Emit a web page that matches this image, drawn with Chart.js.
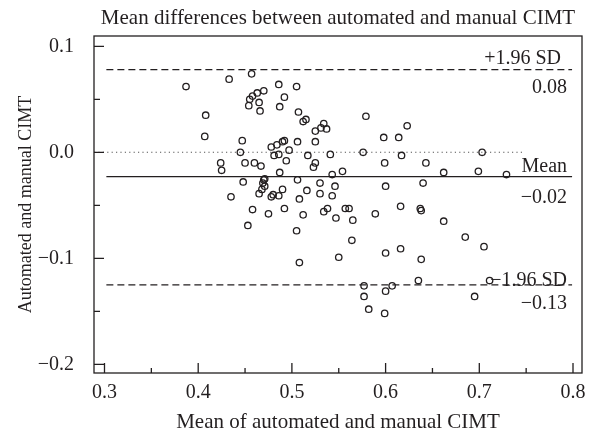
<!DOCTYPE html>
<html><head><meta charset="utf-8">
<script src="https://cdn.jsdelivr.net/npm/chart.js@4.4.1/dist/chart.umd.min.js"></script>
<style>html,body{margin:0;padding:0;background:#fff}#wrap{width:592px;height:436px}</style>
</head><body><div id="wrap"><canvas id="c" width="592" height="436"></canvas></div>
<script>
const chartTitle = 'Mean differences between automated and manual CIMT';
const xTitle = 'Mean of automated and manual CIMT';
const yTitle = 'Automated and manual CIMT';

const meanVals = [
  0.387,0.433,0.457,0.408,0.407,0.447,0.445,0.455,0.458,0.463,
  0.470,0.465,0.454,0.466,0.486,0.505,0.492,0.487,0.507,0.515,
  0.512,0.534,0.531,0.525,0.537,0.579,0.623,0.598,0.614,0.525,
  0.506,0.492,0.490,0.484,0.478,0.497,0.576,0.541,0.517,0.617,
  0.481,0.486,0.460,0.467,0.494,0.525,0.523,0.487,0.543,0.554,
  0.599,0.470,0.471,0.469,0.471,0.468,0.465,0.480,0.478,0.486,
  0.490,0.506,0.516,0.508,0.530,0.546,0.530,0.543,0.600,0.458,
  0.475,0.492,0.512,0.534,0.538,0.557,0.561,0.547,0.565,0.589,
  0.616,0.637,0.638,0.505,0.564,0.600,0.616,0.550,0.508,0.638,
  0.424,0.425,0.450,0.448,0.435,0.453,0.703,0.643,0.662,0.699,
  0.729,0.640,0.662,0.685,0.705,0.635,0.577,0.577,0.582,0.600,
  0.607,0.599,0.711,0.695
];
const diffVals = [
  0.062,0.069,0.074,0.035,0.015,0.011,0.000,0.050,0.053,0.056,
  0.058,0.047,0.044,0.039,0.064,0.062,0.052,0.043,0.038,0.031,
  0.029,0.027,0.023,0.020,0.022,0.034,0.025,0.014,0.014,0.010,
  0.010,0.011,0.010,0.007,0.005,0.002,0.000,-0.002,-0.003,-0.003,
  -0.003,-0.002,-0.010,-0.013,-0.008,-0.010,-0.014,-0.019,-0.021,-0.018,
  -0.010,-0.026,-0.025,-0.029,-0.032,-0.035,-0.039,-0.040,-0.042,-0.041,
  -0.035,-0.026,-0.036,-0.044,-0.029,-0.032,-0.039,-0.041,-0.032,-0.054,
  -0.058,-0.053,-0.059,-0.056,-0.053,-0.053,-0.053,-0.062,-0.064,-0.058,
  -0.051,-0.053,-0.055,-0.074,-0.083,-0.095,-0.091,-0.099,-0.104,-0.101,
  -0.010,-0.017,-0.010,-0.028,-0.042,-0.069,0.000,-0.010,-0.019,-0.018,
  -0.021,-0.029,-0.065,-0.080,-0.089,-0.121,-0.126,-0.136,-0.148,-0.131,
  -0.126,-0.152,-0.121,-0.136
];

const xTickValues = [0.3,0.4,0.5,0.6,0.7,0.8];
const xTickLabels = ['0.3','0.4','0.5','0.6','0.7','0.8'];
const xMinorTicks = [0.35,0.45,0.55,0.65,0.75];
const yTickValues = [-0.2,-0.1,0.0,0.1];
const yTickLabels = ['\u22120.2','\u22120.1','0.0','0.1'];
const yMinorTicks = [-0.15,-0.05,0.05];
const xRange = [0.2888,0.8096];
const yRange = [-0.2082,0.1097];

// limits of agreement: upper, mean, lower
const limitValues = [0.078,-0.023,-0.125];
const limitNames = ['+1.96 SD','Mean','\u22121.96 SD'];
const limitLabels = ['0.08','\u22120.02','\u22120.13'];
const limitSpan = [0.302,0.799];
const zeroSpan = [0.2888,0.747];

const INK = '#231f20';
const FONT = "'Liberation Serif', 'Times New Roman', serif";

const pts = meanVals.map((x,i)=>({x:x,y:diffVals[i]}));
const limitDatasets = limitValues.map((v,i)=>({
  type:'line',
  data:[{x:limitSpan[0],y:v},{x:limitSpan[1],y:v}],
  borderColor:INK, borderWidth:1.2,
  borderDash: i===1 ? [] : [7,4],
  pointRadius:0, fill:false, order:2
}));
const zeroDataset = {
  type:'line',
  data:[{x:zeroSpan[0],y:0},{x:zeroSpan[1],y:0}],
  borderColor:'#555', borderWidth:1.1, borderDash:[1.2,3.2],
  pointRadius:0, fill:false, order:3
};

const decor = {
  id:'decor',
  afterDraw(chart){
    const {ctx, chartArea:a, scales:{x, y}} = chart;
    ctx.save();
    ctx.strokeStyle = INK; ctx.lineWidth = 1.3;
    ctx.strokeRect(a.left, a.top, a.right-a.left, a.bottom-a.top);
    ctx.beginPath();
    xTickValues.forEach(v=>{const p=x.getPixelForValue(v); ctx.moveTo(p,a.bottom); ctx.lineTo(p,a.bottom-10);});
    xMinorTicks.forEach(v=>{const p=x.getPixelForValue(v); ctx.moveTo(p,a.bottom); ctx.lineTo(p,a.bottom-5);});
    yTickValues.forEach(v=>{const p=y.getPixelForValue(v); ctx.moveTo(a.left,p); ctx.lineTo(a.left+10,p);});
    yMinorTicks.forEach(v=>{const p=y.getPixelForValue(v); ctx.moveTo(a.left,p); ctx.lineTo(a.left+6,p);});
    ctx.stroke();
    ctx.fillStyle = INK;
    ctx.font = '20px ' + FONT;
    ctx.textAlign = 'right';
    ctx.textBaseline = 'alphabetic';
    const xr = x.getPixelForValue(0.8) - 6;
    const nameOff = [-6,-5,1.5];
    const valOff = [23.5,26.5,24];
    const nameRight = [xr-6, xr, xr];
    limitValues.forEach((v,i)=>{
      const p = y.getPixelForValue(v);
      ctx.fillText(limitNames[i], nameRight[i], p+nameOff[i]);
      ctx.fillText(limitLabels[i], xr, p+valOff[i]);
    });
    ctx.restore();
  }
};

new Chart(document.getElementById('c'), {
  data:{
    datasets:[
      {type:'scatter', data:pts, pointStyle:'circle', pointRadius:3.2, pointHoverRadius:3.2,
       pointBorderWidth:1.3, borderColor:INK, backgroundColor:'rgba(0,0,0,0)',
       pointBackgroundColor:'rgba(0,0,0,0)', pointBorderColor:INK, order:1},
      ...limitDatasets, zeroDataset
    ]
  },
  options:{
    responsive:false, animation:false, devicePixelRatio:1,
    layout:{padding:{left:0,right:10,top:0,bottom:0}},
    plugins:{
      legend:{display:false}, tooltip:{enabled:false},
      title:{display:true, text:chartTitle, fullSize:false, color:INK,
        font:{family:FONT,size:21,weight:'normal',lineHeight:1.2},
        padding:{top:6,bottom:4.8}}
    },
    scales:{
      x:{type:'linear', min:xRange[0], max:xRange[1],
        grid:{display:false, drawTicks:false}, border:{display:false},
        afterBuildTicks(s){ s.ticks = xTickValues.map(v=>({value:v})); },
        afterFit(s){ s.height = 63; s.paddingLeft = 0; s.paddingRight = 0; },
        ticks:{color:INK, padding:8, maxRotation:0, autoSkip:false,
          font:{family:FONT,size:20,lineHeight:1.2},
          callback:(v)=>xTickLabels[xTickValues.findIndex(t=>Math.abs(t-v)<1e-9)]},
        title:{display:true, text:xTitle, color:INK,
          font:{family:FONT,size:21,lineHeight:1.2}, padding:{top:0,bottom:1}}
      },
      y:{type:'linear', min:yRange[0], max:yRange[1],
        grid:{display:false, drawTicks:false}, border:{display:false},
        afterBuildTicks(s){ s.ticks = yTickValues.map(v=>({value:v})); },
        afterFit(s){ s.width = 94; s.paddingTop = 0; s.paddingBottom = 0; },
        ticks:{color:INK, padding:20, autoSkip:false,
          font:{family:FONT,size:20,lineHeight:1.2},
          callback:(v)=>yTickLabels[yTickValues.findIndex(t=>Math.abs(t-v)<1e-9)]},
        title:{display:true, text:yTitle, color:INK,
          font:{family:FONT,size:18,lineHeight:1.2}, padding:{top:15,bottom:0}}
      }
    }
  },
  plugins:[decor]
});
</script></body></html>
